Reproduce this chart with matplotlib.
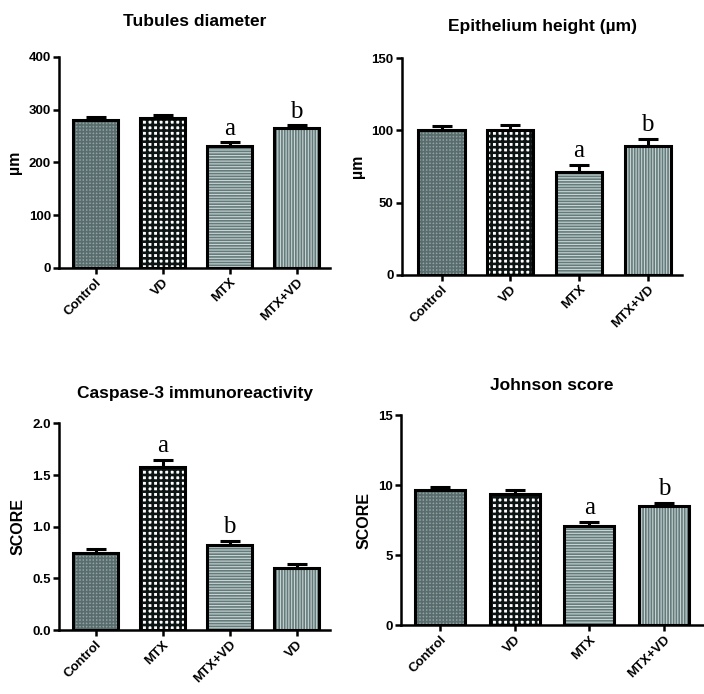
import matplotlib
matplotlib.use('Agg')
import matplotlib.pyplot as plt

plt.rcParams['font.family'] = ['Liberation Sans', 'DejaVu Sans']
plt.rcParams['font.weight'] = 'bold'

groups_a = ['Control', 'VD', 'MTX', 'MTX+VD']
groups_c = ['Control', 'MTX', 'MTX+VD', 'VD']

tubules = [281, 285, 231, 265]
tubules_err = [6, 5, 7, 5]

epith = [100, 100, 71, 89]
epith_err = [3, 4, 5, 5]

caspase = [0.75, 1.58, 0.82, 0.60]
caspase_err = [0.03, 0.07, 0.04, 0.04]

johnson = [9.65, 9.35, 7.05, 8.5]
johnson_err = [0.22, 0.28, 0.35, 0.25]

letters_a = ['', '', 'a', 'b']
letters_c = ['', 'a', 'b', '']

# pattern per bar position: (face, hatch colour, hatch, hatch linewidth)
patterns = [
    ('#93a3a3', '#5a6d6e', '+' * 5, 1.2),
    ('#ffffff', '#0d1414', '+' * 3, 1.9),
    ('#c9d5d5', '#647b7b', '-' * 6, 1.2),
    ('#c9d5d5', '#647b7b', '|' * 6, 1.2),
]

panels = [
    # title, ylabel, cats, vals, errs, letters, ylim, yticks, yfmt, rect, xlim, title pad
    ('Tubules diameter', 'µm', groups_a, tubules, tubules_err, letters_a,
     400, [0, 100, 200, 300, 400], '{:.0f}', [0.084, 0.614, 0.385, 0.304], (-0.545, 3.5), 22),
    ('Epithelium height (µm)', 'µm', groups_a, epith, epith_err, letters_a,
     150, [0, 50, 100, 150], '{:.0f}', [0.571, 0.604, 0.398, 0.312], (-0.575, 3.5), 20),
    ('Caspase-3 immunoreactivity', 'SCORE', groups_c, caspase, caspase_err, letters_c,
     2.0, [0, 0.5, 1.0, 1.5, 2.0], '{:.1f}', [0.084, 0.092, 0.385, 0.298], (-0.545, 3.5), 18),
    ('Johnson score', 'SCORE', groups_a, johnson, johnson_err, letters_a,
     15, [0, 5, 10, 15], '{:.0f}', [0.570, 0.099, 0.428, 0.303], (-0.52, 3.52), 18),
]

fig = plt.figure(figsize=(7.04, 6.94), dpi=100)

for title, ylab, cats, vals, errs, letters, ymax, yticks, yfmt, rect, xlim, tpad in panels:
    ax = fig.add_axes(rect)
    x = list(range(len(cats)))
    for i in x:
        face, hc, hatch, hlw = patterns[i]
        plt.rcParams['hatch.linewidth'] = hlw
        b = ax.bar(i, vals[i], width=0.67, color=face, edgecolor=hc,
                   hatch=hatch, linewidth=0, zorder=2)
        for p in b:
            if hasattr(p, 'set_hatch_linewidth'):
                p.set_hatch_linewidth(hlw)
    ax.bar(x, vals, width=0.67, fill=False, edgecolor='black', linewidth=2.2, zorder=3)
    ax.errorbar(x, vals, yerr=[[0] * len(vals), errs], fmt='none', ecolor='black',
                elinewidth=2.2, capsize=7.5, capthick=2.2, zorder=4)
    for i, t in enumerate(letters):
        if t:
            ax.annotate(t, (i, vals[i] + errs[i]), xytext=(0, 2), textcoords='offset points',
                        ha='center', va='bottom', fontsize=18, fontweight='normal',
                        family=['Liberation Serif', 'DejaVu Serif'])
    ax.set_xlim(*xlim)
    ax.set_ylim(0, ymax)
    ax.set_yticks(yticks)
    ax.set_yticklabels([yfmt.format(v) for v in yticks], fontsize=9.5, fontweight='bold')
    ax.set_xticks(x)
    ax.set_xticklabels(cats, rotation=45, ha='right', rotation_mode='anchor',
                       fontsize=9.5, fontweight='bold')
    ax.spines['top'].set_visible(False)
    ax.spines['right'].set_visible(False)
    ax.spines['left'].set_linewidth(1.8)
    ax.spines['bottom'].set_linewidth(1.8)
    ax.tick_params(width=1.8, length=4, color='black', pad=2)
    ax.set_ylabel(ylab, fontsize=11.5, fontweight='bold', labelpad=5)
    ax.set_title(title, fontsize=12.5, fontweight='bold', pad=tpad)

plt.savefig('out.png', dpi=100)
